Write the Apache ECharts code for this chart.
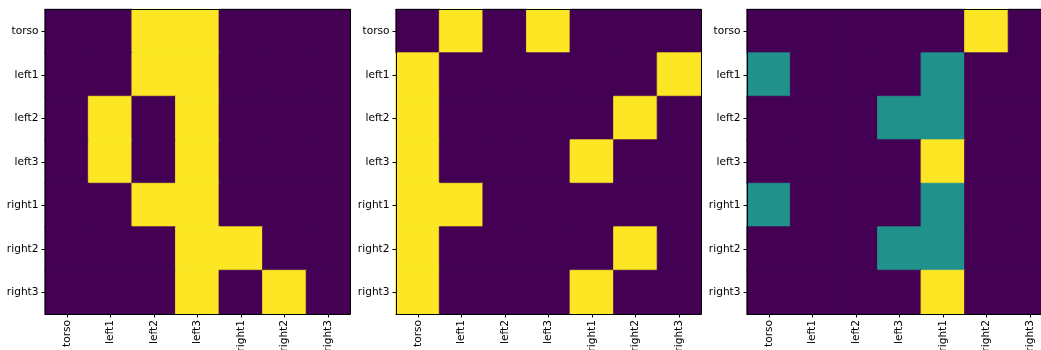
<!DOCTYPE html>
<html>
<head>
<meta charset="utf-8">
<script src="https://cdn.jsdelivr.net/npm/echarts@6/dist/echarts.min.js"></script>
<style>
html,body{margin:0;padding:0;background:#fff;}
#c{width:1041px;height:350px;}
</style>
</head>
<body>
<div id="c"></div>
<script>
const categories = ['torso','left1','left2','left3','right1','right2','right3'];
// rows = y categories (top to bottom), columns = x categories
const matrix1 = [
  [0,0,1,1,0,0,0],
  [0,0,1,1,0,0,0],
  [0,1,0,1,0,0,0],
  [0,1,0,1,0,0,0],
  [0,0,1,1,0,0,0],
  [0,0,0,1,1,0,0],
  [0,0,0,1,0,1,0]
];
const matrix2 = [
  [0,1,0,1,0,0,0],
  [1,0,0,0,0,0,1],
  [1,0,0,0,0,1,0],
  [1,0,0,0,1,0,0],
  [1,1,0,0,0,0,0],
  [1,0,0,0,0,1,0],
  [1,0,0,0,1,0,0]
];
const matrix3 = [
  [0,0,0,0,0,1,0],
  [0.5,0,0,0,0.5,0,0],
  [0,0,0,0.5,0.5,0,0],
  [0,0,0,0,1,0,0],
  [0.5,0,0,0,0.5,0,0],
  [0,0,0,0.5,0.5,0,0],
  [0,0,0,0,1,0,0]
];
const matrices = [matrix1, matrix2, matrix3];
const gridLefts = [45, 396, 747];

const viridis = {0: '#440154', 0.5: '#21918c', 1: '#fde725'};
const font = 'DejaVu Sans';
const grids = [], xAxes = [], yAxes = [], series = [];
matrices.forEach((m, gi) => {
  grids.push({left: gridLefts[gi], top: 9.5, width: 305, height: 304.5, containLabel: false, outerBoundsMode: 'none'});
  xAxes.push({
    type: 'category', data: categories, gridIndex: gi, position: 'bottom', z: 10,
    axisLabel: {rotate: 90, fontSize: 10.6, color: '#000', margin: 6, fontFamily: font},
    axisTick: {show: true, alignWithLabel: true, length: 3.5, lineStyle: {color: '#000', width: 1}},
    axisLine: {lineStyle: {color: '#000', width: 1}},
    splitLine: {show: false}, splitArea: {show: false}
  });
  xAxes.push({
    type: 'category', data: categories, gridIndex: gi, position: 'top', z: 10,
    axisLabel: {show: false}, axisTick: {show: false},
    axisLine: {lineStyle: {color: '#000', width: 1}},
    splitLine: {show: false}
  });
  yAxes.push({
    type: 'category', data: categories, gridIndex: gi, position: 'left', inverse: true, z: 10,
    axisLabel: {fontSize: 10.6, color: '#000', margin: 6.5, fontFamily: font},
    axisTick: {show: true, alignWithLabel: true, length: 3.5, lineStyle: {color: '#000', width: 1}},
    axisLine: {lineStyle: {color: '#000', width: 1}},
    splitLine: {show: false}, splitArea: {show: false}
  });
  yAxes.push({
    type: 'category', data: categories, gridIndex: gi, position: 'right', inverse: true, z: 10,
    axisLabel: {show: false}, axisTick: {show: false},
    axisLine: {lineStyle: {color: '#000', width: 1}},
    splitLine: {show: false}
  });
  const data = [];
  m.forEach((row, yi) => row.forEach((v, xi) => data.push({
    value: [xi, yi, v],
    itemStyle: {borderColor: viridis[v], borderWidth: 0.8}
  })));
  series.push({
    type: 'heatmap', xAxisIndex: gi * 2, yAxisIndex: gi * 2, data: data,
    emphasis: {disabled: true}, progressive: 0, animation: false
  });
});

const chart = echarts.init(document.getElementById('c'), null, {renderer: 'canvas'});
chart.setOption({
  animation: false,
  backgroundColor: '#fff',
  grid: grids, xAxis: xAxes, yAxis: yAxes,
  visualMap: {
    type: 'piecewise', show: false, seriesIndex: [0, 1, 2], dimension: 2,
    pieces: [
      {value: 0, color: viridis[0]},
      {value: 0.5, color: viridis[0.5]},
      {value: 1, color: viridis[1]}
    ]
  },
  series: series
});
</script>
</body>
</html>
